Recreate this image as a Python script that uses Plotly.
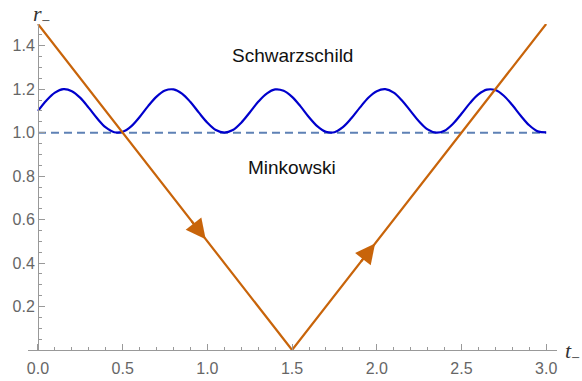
import plotly.graph_objects as go

# radial coordinate r_- along the time coordinate t_-
t_sch = [round(0.05 * i, 2) for i in range(61)]
r_sch = [1.100, 1.148, 1.184, 1.200, 1.191, 1.160, 1.114, 1.065, 1.024, 1.002,
         1.004, 1.029, 1.072, 1.122, 1.166, 1.194, 1.199, 1.180, 1.141, 1.092,
         1.046, 1.012, 1.000, 1.012, 1.046, 1.093, 1.142, 1.180, 1.199, 1.193,
         1.165, 1.121, 1.071, 1.029, 1.004, 1.002, 1.025, 1.066, 1.115, 1.161,
         1.191, 1.200, 1.184, 1.147, 1.099, 1.051, 1.015, 1.000, 1.009, 1.041,
         1.087, 1.136, 1.176, 1.198, 1.196, 1.170, 1.127, 1.078, 1.034, 1.006,
         1.001]

# boundary between regions
t_bound = [0.0, 3.0]
r_bound = [1.0, 1.0]

# light ray: ingoing then outgoing
t_ray = [0.0, 1.5, 3.0]
r_ray = [1.5, 0.0, 1.5]

# arrow markers on the ray: (tail t, tail r, tip t, tip r)
arrows = [(0.90, 0.60, 0.99, 0.51), (1.90, 0.40, 1.99, 0.49)]

region_labels = [(1.5, 1.353, "Schwarzschild"), (1.5, 0.842, "Minkowski")]

x_range = [-0.059, 3.064]
y_range = [0.0, 1.5]
x_ticks = [0.0, 0.5, 1.0, 1.5, 2.0, 2.5, 3.0]
y_ticks = [0.2, 0.4, 0.6, 0.8, 1.0, 1.2, 1.4]

ORANGE = "#C8640A"
BLUE = "#0000CC"
DASH = "#5E81B5"
AXIS = "#999999"
TICKFONT = dict(family="Liberation Sans, Arial, sans-serif", size=16, color="#666666")

fig = go.Figure()
fig.add_trace(go.Scatter(x=t_bound, y=r_bound, mode="lines",
                         line=dict(color=DASH, width=2, dash="8px,5px")))
fig.add_trace(go.Scatter(x=t_sch, y=r_sch, mode="lines", line_shape="spline",
                         line=dict(color=BLUE, width=2.2)))
fig.add_trace(go.Scatter(x=t_ray, y=r_ray, mode="lines",
                         line=dict(color=ORANGE, width=2.2)))

for (t0, r0, t1, r1) in arrows:
    fig.add_annotation(x=t1, y=r1, ax=t0, ay=r0, xref="x", yref="y",
                       axref="x", ayref="y", text="", showarrow=True,
                       arrowhead=2, arrowsize=1.8, arrowwidth=2.2,
                       arrowcolor=ORANGE)

for (tx, ry, txt) in region_labels:
    fig.add_annotation(x=tx, y=ry, xref="x", yref="y", text=txt,
                       showarrow=False,
                       font=dict(family="Liberation Sans, Arial, sans-serif",
                                 size=19, color="#111111"))

# y axis sits at t = 0 inside the padded x range
y_axis_pos = (0.0 - x_range[0]) / (x_range[1] - x_range[0])

# axis titles
fig.add_annotation(x=y_axis_pos, y=1.0, xref="paper", yref="paper",
                   xanchor="left", yanchor="bottom", yshift=-7, xshift=-7,
                   text="<i>r</i><sub>−</sub>", showarrow=False,
                   font=dict(family="Liberation Serif, Times New Roman, serif",
                             size=22, color="#333333"))
fig.add_annotation(x=1.0, y=0.0, xref="paper", yref="paper", xanchor="left",
                   yanchor="middle", xshift=6, yshift=-2,
                   text="<i>t</i><sub>−</sub>", showarrow=False,
                   font=dict(family="Liberation Serif, Times New Roman, serif",
                             size=22, color="#333333"))

fig.update_layout(
    width=582, height=381,
    margin=dict(l=28, r=25, t=24, b=31, autoexpand=False),
    paper_bgcolor="white", plot_bgcolor="white",
    showlegend=False,
    xaxis=dict(range=x_range, showgrid=False, zeroline=False,
               showline=True, linecolor=AXIS, linewidth=1,
               tickmode="array", tickvals=x_ticks,
               ticktext=[f"{v:.1f}" for v in x_ticks],
               ticks="inside", ticklen=6, tickcolor=AXIS, tickwidth=1,
               minor=dict(tickmode="linear", tick0=0, dtick=0.1,
                          ticks="inside", ticklen=3.5, tickcolor=AXIS),
               tickfont=TICKFONT, ticklabelstandoff=4, anchor="y",
               automargin=False),
    yaxis=dict(range=y_range, showgrid=False, zeroline=False,
               showline=True, linecolor=AXIS, linewidth=1,
               tickmode="array", tickvals=y_ticks,
               ticktext=[f"{v:.1f}" for v in y_ticks],
               ticks="inside", ticklen=6, tickcolor=AXIS, tickwidth=1,
               minor=dict(tickmode="linear", tick0=0, dtick=0.05,
                          ticks="inside", ticklen=3.5, tickcolor=AXIS),
               tickfont=TICKFONT, anchor="free", position=y_axis_pos,
               automargin=False),
)

fig.write_html("out.html")
